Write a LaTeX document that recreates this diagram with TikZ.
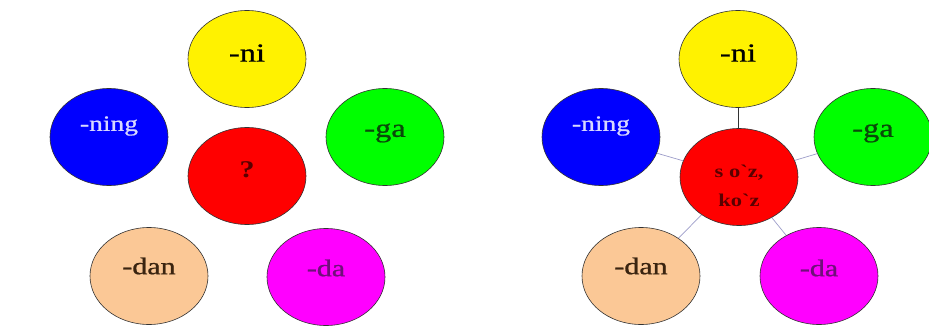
\documentclass[tikz,border=0pt]{standalone}
\usepackage{fontspec}
\setmainfont{Liberation Serif}
\newfontfamily\thickserif[FakeBold=0.8]{Liberation Serif}
\usetikzlibrary{shapes.geometric}
\definecolor{peach}{HTML}{FBC896}
\definecolor{fuchsia}{HTML}{FF00FF}
\definecolor{darkbrown}{HTML}{3A2410}
\definecolor{darkgreen}{HTML}{0A4A0A}
\definecolor{darkred}{HTML}{5A0000}
\definecolor{plum}{HTML}{70107A}
\definecolor{lavender}{HTML}{D8D8FF}
\newcommand{\widetext}[1]{\scalebox{1.25}[1]{#1}}
\tikzset{
  bubble/.style={ellipse,draw=black!80,line width=0.6pt,minimum width=118pt,minimum height=97pt,inner sep=0pt},
  tag/.style={inner sep=0pt,font=\thickserif\fontsize{#1}{#1}\selectfont},
  tag/.default=24
}
\begin{document}
\begin{tikzpicture}
  [x=1pt,y=-1pt]
  \useasboundingbox (0,0) rectangle (929,329);
  % left: the question
  \node[bubble,fill=yellow] (ni) at (247,59) {};
  \node[bubble,fill=blue] (ning) at (109,137) {};
  \node[bubble,fill=red] (q) at (247,176) {};
  \node[bubble,fill=green] (ga) at (385,137) {};
  \node[bubble,fill=peach] (dan) at (149,276) {};
  \node[bubble,fill=fuchsia] (da) at (326,277) {};
  \node[tag=26] (ni-t) at (247,53) {\widetext{-ni}};
  \node[tag=22,text=lavender] (ning-t) at (109,126) {\widetext{-ning}};
  \node[text=darkred,inner sep=0pt,font=\bfseries\fontsize{24}{24}\selectfont] (q-t) at (247,170) {\widetext{?}};
  \node[tag=26,text=darkgreen] (ga-t) at (385,133) {\widetext{-ga}};
  \node[tag=24,text=darkbrown] (dan-t) at (149,266) {\widetext{-dan}};
  \node[tag=24,text=plum] (da-t) at (326,268) {\widetext{-da}};

  % right: the answer
  \node[bubble,fill=yellow] (ni2) at (738,59) {};
  \node[bubble,fill=blue] (ning2) at (601,137) {};
  \node[bubble,fill=red] (w2) at (739,177) {};
  \node[bubble,fill=green] (ga2) at (873,137) {};
  \node[bubble,fill=peach] (dan2) at (641,276) {};
  \node[bubble,fill=fuchsia] (da2) at (819,276) {};
  \node[tag=26] (ni2-t) at (738,53) {\widetext{-ni}};
  \node[tag=22,text=lavender] (ning2-t) at (601,126) {\widetext{-ning}};
  \node[text=darkred,inner sep=0pt,font=\bfseries\fontsize{18}{29}\selectfont,align=center] (w2-t) at (739,186)
    {\widetext{s o\textasciigrave z,}\\ \widetext{ko\textasciigrave z}};
  \node[tag=26,text=darkgreen] (ga2-t) at (873,133) {\widetext{-ga}};
  \node[tag=24,text=darkbrown] (dan2-t) at (641,266) {\widetext{-dan}};
  \node[tag=24,text=plum] (da2-t) at (819,268) {\widetext{-da}};

  \draw[black!80,line width=0.7pt] (ni2) -- (w2);
  \foreach \to in {ning2, ga2, dan2, da2}
    \draw[gray!70!blue!60,line width=0.7pt] (w2) -- (\to);
\end{tikzpicture}
\end{document}
